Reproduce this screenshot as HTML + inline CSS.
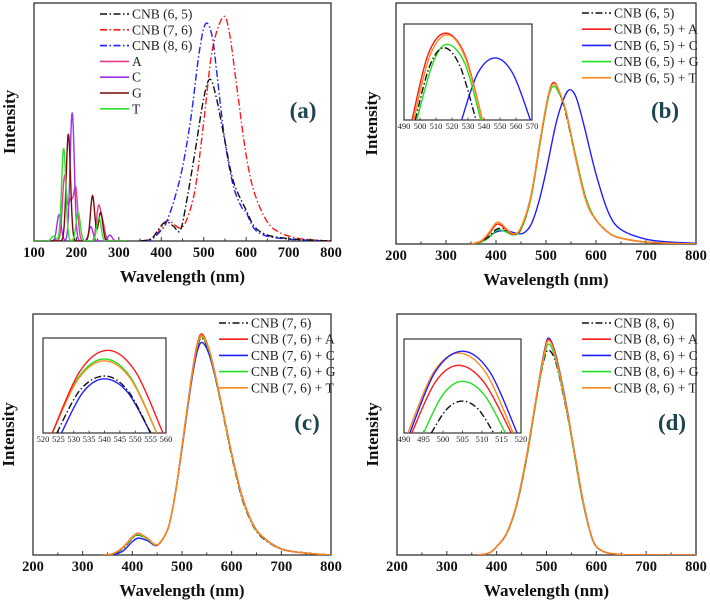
<!DOCTYPE html>
<html><head><meta charset="utf-8">
<style>
html,body{margin:0;padding:0;background:#fff;}
svg{display:block;}
text{font-family:"Liberation Serif",serif;}
</style></head>
<body>
<svg id="fig" width="710" height="605" viewBox="0 0 710 605" xmlns="http://www.w3.org/2000/svg" font-family="Liberation Serif, serif"></svg>
<script>
// ---------- DATA ----------
// Panel (a)
const aWl65 = [350,370,380,390,400,410,420,430,445,460,480,500,515,530,550,570,600,620,650,700,750,800];
const aV65  = [0,0.005,0.015,0.04,0.065,0.08,0.075,0.06,0.045,0.17,0.38,0.6,0.68,0.6,0.42,0.25,0.13,0.06,0.025,0.01,0.004,0];
const aWl76 = [360,380,400,415,430,445,460,480,500,520,545,560,580,600,620,650,680,720,760,800];
const aV76  = [0,0.012,0.055,0.087,0.07,0.055,0.09,0.22,0.5,0.8,0.94,0.88,0.62,0.36,0.2,0.08,0.035,0.012,0.004,0];
const aWl86 = [360,380,400,410,430,450,470,490,505,520,530,550,570,590,600,620,650,700,750,800];
const aV86  = [0,0.01,0.046,0.07,0.17,0.31,0.52,0.8,0.914,0.86,0.72,0.42,0.23,0.14,0.12,0.05,0.02,0.008,0.003,0];
const basePeaksA = [[172,0.27],[186,0.16],[198,0.22],[252,0.14],[262,0.07]];
const basePeaksC = [[159,0.11],[190,0.54],[234,0.06],[279,0.025]];
const basePeaksG = [[181,0.45],[238,0.19],[257,0.12]];
const basePeaksT = [[146,0.02],[170,0.39],[204,0.12],[253,0.1]];
// Panel (b)
const bWlA = [350,370,385,400,410,420,435,450,470,490,505,515,525,540,560,580,600,630,660,700,750,800];
const bV65 = [0,0.01,0.03,0.06,0.065,0.06,0.04,0.065,0.2,0.45,0.62,0.67,0.64,0.54,0.35,0.18,0.1,0.04,0.02,0.008,0.003,0];
const bVA  = [0,0.012,0.04,0.08,0.078,0.06,0.04,0.068,0.2,0.45,0.62,0.67,0.64,0.55,0.35,0.18,0.1,0.04,0.02,0.008,0.003,0];
const bVG  = [0,0.008,0.025,0.055,0.058,0.05,0.038,0.06,0.19,0.44,0.61,0.655,0.63,0.55,0.36,0.19,0.1,0.04,0.02,0.008,0.003,0];
const bVT  = [0,0.013,0.045,0.088,0.085,0.065,0.042,0.068,0.2,0.45,0.62,0.665,0.64,0.55,0.35,0.18,0.1,0.04,0.02,0.008,0.003,0];
const bWlC = [360,380,400,420,440,455,470,485,500,520,535,547,560,575,600,625,650,700,750,800];
const bVC  = [0,0.02,0.05,0.055,0.045,0.045,0.08,0.17,0.3,0.5,0.6,0.64,0.61,0.5,0.29,0.13,0.06,0.02,0.008,0.003];
// inset (b): 490-570, values as fraction of inset height
const biWlA = [495,505,516,528,539]; const biVA = [0,0.68,0.905,0.68,0];
const biWlT = [496,506,517,528,539]; const biVT = [0,0.66,0.887,0.66,0];
const biWlG = [498,508,517,528,538]; const biVG = [0,0.59,0.788,0.59,0];
const biWl65= [497,506,515,525,535]; const biV65= [0,0.56,0.753,0.56,0];
const biWlC = [526,536,547,558,569]; const biVC = [0,0.485,0.647,0.485,0];
// Panel (c)
const cWl = [340,360,380,400,412,430,450,470,480,490,500,510,520,530,540,555,570,590,600,620,640,660,700,750,800];
const cVA = [0,0.005,0.03,0.075,0.09,0.07,0.042,0.1,0.18,0.3,0.45,0.6,0.75,0.87,0.917,0.85,0.72,0.52,0.42,0.25,0.14,0.08,0.025,0.008,0];
const cV76= [0,0.004,0.025,0.068,0.083,0.066,0.042,0.1,0.18,0.3,0.45,0.6,0.74,0.855,0.9,0.84,0.71,0.51,0.41,0.24,0.135,0.075,0.024,0.008,0];
const cVC = [0,0.002,0.015,0.055,0.07,0.06,0.04,0.1,0.18,0.3,0.44,0.59,0.73,0.84,0.882,0.83,0.71,0.52,0.42,0.25,0.14,0.08,0.026,0.008,0];
const cVG = [0,0.004,0.027,0.07,0.085,0.067,0.042,0.1,0.18,0.3,0.45,0.6,0.745,0.86,0.905,0.845,0.715,0.515,0.415,0.245,0.138,0.078,0.025,0.008,0];
const cVT = [0,0.005,0.029,0.074,0.089,0.069,0.042,0.1,0.18,0.3,0.45,0.6,0.745,0.865,0.91,0.848,0.718,0.518,0.418,0.248,0.139,0.079,0.025,0.008,0];
// inset (c): 520-560
const ciWlA = [523,532,541,550,559]; const ciVA = [0,0.65,0.87,0.65,0];
const ciWlG = [523,531.5,540,548.5,557]; const ciVG = [0,0.585,0.78,0.585,0];
const ciWlT = [523,531.5,540,548.5,557]; const ciVT = [0,0.57,0.76,0.57,0];
const ciWl76= [524.5,532,540,547.5,555]; const ciV76= [0,0.45,0.6,0.45,0];
const ciWlC = [526,533,540,547.5,555]; const ciVC = [0,0.43,0.57,0.43,0];
// Panel (d)
const dWl = [360,380,390,400,420,440,460,480,495,505,520,540,550,560,570,580,590,600,620,650,700,800];
const dVC = [0,0.005,0.015,0.035,0.09,0.21,0.41,0.66,0.84,0.9,0.82,0.62,0.5,0.38,0.26,0.16,0.08,0.035,0.01,0.002,0,0];
const dVA = [0,0.005,0.015,0.035,0.09,0.21,0.41,0.66,0.835,0.895,0.815,0.615,0.5,0.38,0.26,0.16,0.08,0.035,0.01,0.002,0,0];
const dVT = [0,0.005,0.015,0.035,0.09,0.21,0.41,0.66,0.83,0.89,0.81,0.612,0.5,0.38,0.26,0.16,0.08,0.035,0.01,0.002,0,0];
const dVG = [0,0.005,0.015,0.035,0.088,0.205,0.4,0.65,0.82,0.875,0.8,0.605,0.49,0.37,0.25,0.155,0.078,0.034,0.01,0.002,0,0];
const dV86= [0,0.005,0.015,0.035,0.088,0.205,0.4,0.65,0.81,0.85,0.79,0.6,0.49,0.37,0.25,0.155,0.078,0.034,0.01,0.002,0,0];
// inset (d): 490-520
const diWlC = [491.5,498,505,512,519]; const diVC = [0,0.65,0.87,0.65,0];
const diWlT = [491,497.5,504,511,518]; const diVT = [0,0.64,0.85,0.64,0];
const diWlA = [492,498,504,510.5,517.5]; const diVA = [0,0.54,0.72,0.54,0];
const diWlG = [495,500,505,510.5,516]; const diVG = [0,0.41,0.55,0.41,0];
const diWl86= [497,501,505,509,513]; const diV86= [0,0.255,0.34,0.255,0];

const ticksA = [100,200,300,400,500,600,700,800];
const ticksB = [200,300,400,500,600,700,800];

// ---------- HELPERS ----------
const NS="http://www.w3.org/2000/svg";
const svg=document.getElementById('fig');
const FONT='Liberation Serif, serif';
function mk(tag,attrs,parent){const e=document.createElementNS(NS,tag);for(const k in attrs)e.setAttribute(k,attrs[k]);if(tag==='text')e.setAttribute('font-family',FONT);(parent||svg).appendChild(e);return e;}
const COL={black:'#111',red:'#ff1a1a',blue:'#1f1fff',green:'#22e022',orange:'#ff8a1e',pink:'#ea3a8e',purple:'#a12ff0',brown:'#7a0a0a',tgreen:'#2ee02e'};
const DASH='7 2.5 1.5 2.5';
function axes(p){return {x:w=>p.x0+(w-p.xmin)/(p.xmax-p.xmin)*(p.x1-p.x0), y:v=>p.y1-v*(p.y1-p.y0)};}
function spline(pts){
  let d='M'+pts[0][0].toFixed(2)+','+pts[0][1].toFixed(2);
  for(let i=0;i<pts.length-1;i++){
    const p0=pts[Math.max(0,i-1)],p1=pts[i],p2=pts[i+1],p3=pts[Math.min(pts.length-1,i+2)];
    const c1=[p1[0]+(p2[0]-p0[0])/6,p1[1]+(p2[1]-p0[1])/6];
    const c2=[p2[0]-(p3[0]-p1[0])/6,p2[1]-(p3[1]-p1[1])/6];
    d+=' C'+c1[0].toFixed(2)+','+c1[1].toFixed(2)+' '+c2[0].toFixed(2)+','+c2[1].toFixed(2)+' '+p2[0].toFixed(2)+','+p2[1].toFixed(2);
  }
  return d;
}
let clipN=0;
function clipFor(p){const id='clip'+(clipN++);const cp=mk('clipPath',{id:id});mk('rect',{x:p.x0,y:p.y0-1,width:p.x1-p.x0,height:p.y1-p.y0+1},cp);return 'url(#'+id+')';}
function drawSeries(g,ax,wl,vals,color,dash,name){
  const pts=wl.map((w,i)=>[ax.x(w),ax.y(vals[i])]);
  const e=mk('path',{d:spline(pts),fill:'none',stroke:color,'stroke-width':1.4,'stroke-dasharray':dash||'none'},g);
  
  
}
function drawPeaks(g,ax,p,peaks,color,name){
  const pts=[];
  for(let w=p.xmin;w<=320;w+=1){let v=0;peaks.forEach(pk=>{v+=pk[1]*Math.exp(-Math.pow(w-pk[0],2)/(2*5*5));});pts.push((pts.length?'L':'M')+ax.x(w).toFixed(2)+','+ax.y(v).toFixed(2));}
  const e=mk('path',{d:pts.join(' '),fill:'none',stroke:color,'stroke-width':1.4},g);
  
  
}
function frame(p,ticks,letter,lx,ly,pname){
  const g=mk('g',{});
  
  
  const ax=axes(p);
  const box=mk('rect',{x:p.x0,y:p.y0,width:p.x1-p.x0,height:p.y1-p.y0,fill:'none',stroke:'#333','stroke-width':1.3},g);
  
  
  for(let w=p.xmin;w<=p.xmax;w+=50){
    const major=(w%100===0);
    mk('line',{x1:ax.x(w),x2:ax.x(w),y1:p.y1,y2:p.y1-(major?4:2.5),stroke:'#333','stroke-width':1},g);
  }
  ticks.forEach(t=>{
    const tl=mk('text',{x:ax.x(t),y:p.y1+16,'text-anchor':'middle','font-size':14.5,'font-weight':'bold',fill:'#111'},g);
    tl.textContent=t;
    
    
  });
  const xt=mk('text',{x:(p.x0+p.x1)/2,y:p.y1+41,'text-anchor':'middle','font-size':17,'font-weight':'bold',fill:'#111'},g);
  xt.textContent='Wavelength (nm)';
  
  
  const yx=p.x0-19, yy=(p.y0+p.y1)/2;
  const yt=mk('text',{x:yx,y:yy,'text-anchor':'middle','font-size':17,'font-weight':'bold',fill:'#111',transform:'rotate(-90 '+yx+' '+yy+')'},g);
  yt.textContent='Intensity';
  
  
  const pl=mk('text',{x:lx,y:ly,'text-anchor':'middle','font-size':23,'font-weight':'bold',fill:'#1e4450'},g);
  pl.textContent=letter;
  
  
  const cg=mk('g',{'clip-path':clipFor(p)},g);
  return {g:g,cg:cg,ax:ax};
}
function legend(g,x,y0,dy,entries){
  entries.forEach((en,i)=>{
    const y=y0+i*dy;
    const lg=mk('g',{},g);
    
    
    mk('line',{x1:x,x2:x+29,y1:y,y2:y,stroke:en[1],'stroke-width':1.6,'stroke-dasharray':en[2]||'none'},lg);
    const t=mk('text',{x:x+32,y:y+4.5,'font-size':13.5,fill:'#222'},lg);
    t.textContent=en[0];
  });
}
function inset(g,p,ticks,series){
  const ig=mk('g',{},g);
  
  
  mk('rect',{x:p.x0,y:p.y0,width:p.x1-p.x0,height:p.y1-p.y0,fill:'#fff',stroke:'#333','stroke-width':1.2},ig);
  const ax=axes(p);
  ticks.forEach(t=>{
    mk('line',{x1:ax.x(t),x2:ax.x(t),y1:p.y1,y2:p.y1-2.5,stroke:'#333','stroke-width':0.8},ig);
    const tl=mk('text',{x:ax.x(t),y:p.y1+9,'text-anchor':'middle','font-size':8.5,fill:'#222'},ig);
    tl.textContent=t;
    
    
  });
  const cg=mk('g',{'clip-path':clipFor(p)},ig);
  series.forEach(s=>drawSeries(cg,ax,s[0],s[1],s[2],s[3],s[4]));
}

// ---------- PANEL A ----------
(function(){
  const p={x0:34,x1:331,y0:3,y1:241,xmin:100,xmax:800};
  const f=frame(p,ticksA,'(a)',303,118,'panel-a');
  drawPeaks(f.cg,f.ax,p,basePeaksA,COL.pink,'line-A');
  drawPeaks(f.cg,f.ax,p,basePeaksC,COL.purple,'line-C');
  drawPeaks(f.cg,f.ax,p,basePeaksG,COL.brown,'line-G');
  drawPeaks(f.cg,f.ax,p,basePeaksT,COL.tgreen,'line-T');
  drawSeries(f.cg,f.ax,aWl76,aV76,COL.red,DASH,'line-cnb-7-6');
  drawSeries(f.cg,f.ax,aWl86,aV86,COL.blue,DASH,'line-cnb-8-6');
  drawSeries(f.cg,f.ax,aWl65,aV65,COL.black,DASH,'line-cnb-6-5');
  legend(f.g,100,14,15.8,[['CNB (6, 5)',COL.black,DASH],['CNB (7, 6)',COL.red,DASH],['CNB (8, 6)',COL.blue,DASH],['A',COL.pink],['C',COL.purple],['G',COL.brown],['T',COL.tgreen]]);
})();
// ---------- PANEL B ----------
(function(){
  const p={x0:396,x1:696,y0:3,y1:244,xmin:200,xmax:800};
  const f=frame(p,ticksB,'(b)',665,118,'panel-b');
  drawSeries(f.cg,f.ax,bWlC,bVC,COL.blue,null,'line-cnb-6-5-C');
  drawSeries(f.cg,f.ax,bWlA,bVG,COL.green,null,'line-cnb-6-5-G');
  drawSeries(f.cg,f.ax,bWlA,bV65,COL.black,DASH,'line-cnb-6-5');
  drawSeries(f.cg,f.ax,bWlA,bVA,COL.red,null,'line-cnb-6-5-A');
  drawSeries(f.cg,f.ax,bWlA,bVT,COL.orange,null,'line-cnb-6-5-T');
  legend(f.g,582,13,16.2,[['CNB (6, 5)',COL.black,DASH],['CNB (6, 5) + A',COL.red],['CNB (6, 5) + C',COL.blue],['CNB (6, 5) + G',COL.green],['CNB (6, 5) + T',COL.orange]]);
  inset(f.g,{x0:404,x1:532,y0:24,y1:120,xmin:490,xmax:570},[490,500,510,520,530,540,550,560,570],
    [[biWlC,biVC,COL.blue,null,'inset-C'],[biWlG,biVG,COL.green,null,'inset-G'],[biWl65,biV65,COL.black,DASH,'inset-6-5'],[biWlA,biVA,COL.red,null,'inset-A'],[biWlT,biVT,COL.orange,null,'inset-T']]);
})();
// ---------- PANEL C ----------
(function(){
  const p={x0:33,x1:331,y0:314,y1:555,xmin:200,xmax:800};
  const f=frame(p,ticksB,'(c)',307,430,'panel-c');
  drawSeries(f.cg,f.ax,cWl,cVC,COL.blue,null,'line-cnb-7-6-C');
  drawSeries(f.cg,f.ax,cWl,cV76,COL.black,DASH,'line-cnb-7-6');
  drawSeries(f.cg,f.ax,cWl,cVG,COL.green,null,'line-cnb-7-6-G');
  drawSeries(f.cg,f.ax,cWl,cVA,COL.red,null,'line-cnb-7-6-A');
  drawSeries(f.cg,f.ax,cWl,cVT,COL.orange,null,'line-cnb-7-6-T');
  legend(f.g,219,323,16.2,[['CNB (7, 6)',COL.black,DASH],['CNB (7, 6) + A',COL.red],['CNB (7, 6) + C',COL.blue],['CNB (7, 6) + G',COL.green],['CNB (7, 6) + T',COL.orange]]);
  inset(f.g,{x0:43,x1:166,y0:338,y1:433,xmin:520,xmax:560},[520,525,530,535,540,545,550,555,560],
    [[ciWlC,ciVC,COL.blue,null,'inset-C'],[ciWl76,ciV76,COL.black,DASH,'inset-7-6'],[ciWlG,ciVG,COL.green,null,'inset-G'],[ciWlT,ciVT,COL.orange,null,'inset-T'],[ciWlA,ciVA,COL.red,null,'inset-A']]);
})();
// ---------- PANEL D ----------
(function(){
  const p={x0:397,x1:696,y0:314,y1:555,xmin:200,xmax:800};
  const f=frame(p,ticksB,'(d)',672,430,'panel-d');
  drawSeries(f.cg,f.ax,dWl,dV86,COL.black,DASH,'line-cnb-8-6');
  drawSeries(f.cg,f.ax,dWl,dVG,COL.green,null,'line-cnb-8-6-G');
  drawSeries(f.cg,f.ax,dWl,dVC,COL.blue,null,'line-cnb-8-6-C');
  drawSeries(f.cg,f.ax,dWl,dVA,COL.red,null,'line-cnb-8-6-A');
  drawSeries(f.cg,f.ax,dWl,dVT,COL.orange,null,'line-cnb-8-6-T');
  legend(f.g,582,323,16.2,[['CNB (8, 6)',COL.black,DASH],['CNB (8, 6) + A',COL.red],['CNB (8, 6) + C',COL.blue],['CNB (8, 6) + G',COL.green],['CNB (8, 6) + T',COL.orange]]);
  inset(f.g,{x0:404,x1:521,y0:339,y1:433,xmin:490,xmax:520},[490,495,500,505,510,515,520],
    [[diWl86,diV86,COL.black,DASH,'inset-8-6'],[diWlG,diVG,COL.green,null,'inset-G'],[diWlA,diVA,COL.red,null,'inset-A'],[diWlT,diVT,COL.orange,null,'inset-T'],[diWlC,diVC,COL.blue,null,'inset-C']]);
})();
</script>
</body></html>
